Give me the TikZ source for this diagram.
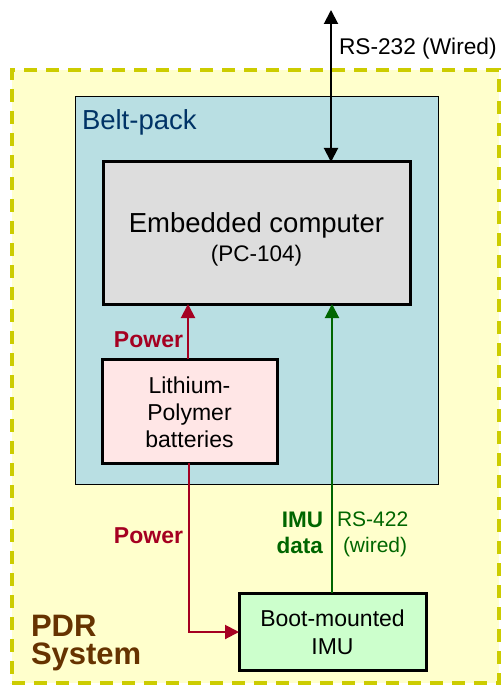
\documentclass[tikz,border=0pt]{standalone}
\usepackage{fontspec}
\setmainfont{Liberation Sans}
\usetikzlibrary{arrows.meta}
\definecolor{pdrfill}{HTML}{FFFFCC}
\definecolor{pdrdash}{HTML}{CCCC00}
\definecolor{beltfill}{HTML}{B9DFE3}
\definecolor{belttext}{HTML}{003366}
\definecolor{compfill}{HTML}{DDDDDD}
\definecolor{batfill}{HTML}{FFE6E6}
\definecolor{imufill}{HTML}{CCFFCC}
\definecolor{powred}{HTML}{A50021}
\definecolor{datagreen}{HTML}{006600}
\definecolor{pdrbrown}{HTML}{663300}
\begin{document}
\begin{tikzpicture}[x=1pt,y=-1pt,
  box/.style={draw=black,line width=3pt,inner sep=0pt,outer sep=0pt},
  txt/.style={inner sep=0pt,outer sep=0pt,anchor=base,font=\fontsize{23}{27}\selectfont},
  conn/.style={line width=2pt,-{Triangle[length=14pt,width=14pt]}},
]
\useasboundingbox (0,0) rectangle (501,687);
% outer PDR system
\node[draw=pdrdash,fill=pdrfill,line width=4pt,dash pattern=on 13pt off 9pt,
  minimum width=487pt,minimum height=613pt,inner sep=0pt] (pdr) at (255.5,376.5) {};
% belt-pack
\node[draw=black,fill=beltfill,line width=1pt,minimum width=363pt,minimum height=387pt,inner sep=0pt] (belt) at (256.5,290.5) {};
\node[txt,anchor=base west,text=belttext,font=\fontsize{27.5}{32}\selectfont] (beltlbl) at (82,130) {Belt-pack};
% embedded computer
\node[box,fill=compfill,minimum width=307pt,minimum height=142pt] (comp) at (256.5,233) {};
\node[txt,font=\fontsize{27.5}{32}\selectfont] (comp1) at (256.5,232) {Embedded computer};
\node[txt,font=\fontsize{22.5}{27}\selectfont] (comp2) at (256.5,261) {(PC-104)};
% batteries
\node[box,fill=batfill,minimum width=175pt,minimum height=104pt] (bat) at (189.5,411) {};
\node[txt] (bat1) at (189.5,393) {Lithium-};
\node[txt] (bat2) at (189.5,420) {Polymer};
\node[txt] (bat3) at (189.5,447) {batteries};
% IMU
\node[box,fill=imufill,minimum width=187pt,minimum height=77pt] (imu) at (332.5,631.5) {};
\node[txt] (imu1) at (332.5,626) {Boot-mounted};
\node[txt] (imu2) at (332.5,654) {IMU};
% PDR label
\node[txt,anchor=base west,text=pdrbrown,font=\fontsize{31}{36}\bfseries] (pdr1) at (31,636) {PDR};
\node[txt,anchor=base west,text=pdrbrown,font=\fontsize{31}{36}\bfseries] (pdr2) at (31,664) {System};
% RS-232
\coordinate (ext) at (331,10);
\draw[line width=2pt,{Triangle[length=14pt,width=14pt]}-{Triangle[length=14pt,width=14pt]}] (ext) -- (ext |- comp.north);
\node[txt,anchor=base west,font=\fontsize{22.7}{27}\selectfont] (rs232) at (339,55) {RS-232 (Wired)};
% power to computer
\draw[conn,powred] (bat.north -| 188,0) -- (comp.south -| 188,0);
\node[txt,anchor=base east,text=powred,font=\fontsize{23}{27}\bfseries] (pow1) at (183,347) {Power};
% power to IMU
\coordinate (pcorner) at (189,632);
\draw[conn,powred] (bat.south -| pcorner) -- (pcorner) -- (imu.west |- pcorner);
\node[txt,anchor=base east,text=powred,font=\fontsize{23}{27}\bfseries] (pow2) at (183,543) {Power};
% IMU data
\draw[conn,datagreen] (imu.north -| 332,0) -- (comp.south -| 332,0);
\node[txt,anchor=base east,text=datagreen,font=\fontsize{22.5}{27}\bfseries] (imud1) at (323,527) {IMU};
\node[txt,anchor=base east,text=datagreen,font=\fontsize{22.5}{27}\bfseries] (imud2) at (323,553) {data};
\node[txt,anchor=base west,text=datagreen,font=\fontsize{21}{25}\selectfont] (rs4221) at (337,526) {RS-422};
\node[txt,anchor=base west,text=datagreen,font=\fontsize{21}{25}\selectfont] (rs4222) at (343,552) {(wired)};
\end{tikzpicture}
\end{document}
